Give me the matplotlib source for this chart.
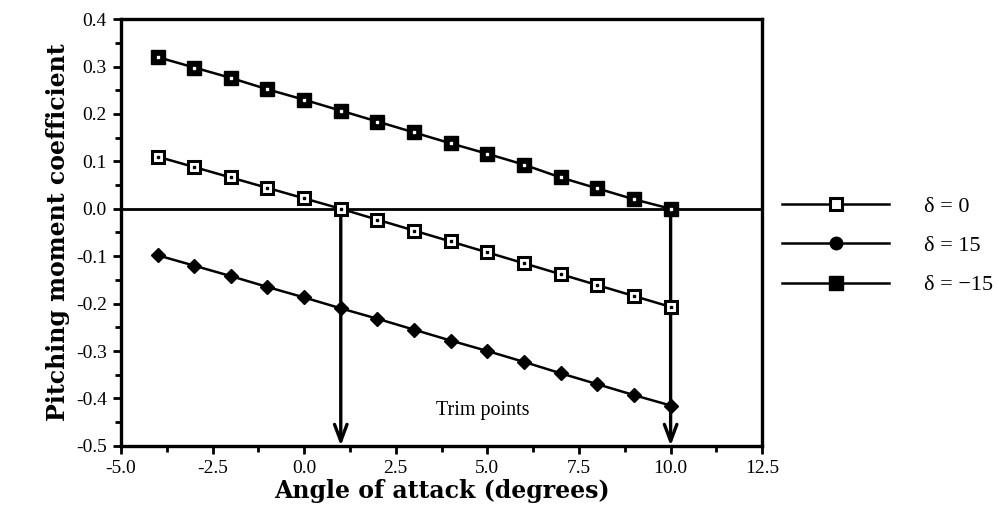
import matplotlib
matplotlib.use("Agg")
import matplotlib.pyplot as plt
from matplotlib.lines import Line2D

alpha = [-4, -3, -2, -1, 0, 1, 2, 3, 4, 5, 6, 7, 8, 9, 10]
cm_d0 = [0.110, 0.088, 0.066, 0.044, 0.022, 0.000, -0.023, -0.046, -0.069,
         -0.092, -0.115, -0.138, -0.161, -0.184, -0.207]
cm_d15 = [-0.098, -0.120, -0.142, -0.165, -0.187, -0.210, -0.232, -0.255,
          -0.278, -0.300, -0.323, -0.347, -0.370, -0.393, -0.415]
cm_dm15 = [0.320, 0.298, 0.276, 0.252, 0.230, 0.207, 0.184, 0.161, 0.138,
           0.116, 0.093, 0.066, 0.043, 0.020, 0.000]
trim_alpha = [1, 10]
labels = ["δ = 0", "δ = 15", "δ = −15"]

plt.rcParams['font.family'] = ['Liberation Serif', 'DejaVu Serif']

fig = plt.figure(figsize=(9.99, 5.32), dpi=100)
ax = fig.add_axes([0.121, 0.162, 0.642, 0.802])

lw = 1.8
# delta = 0 : open square with dot
ax.plot(alpha, cm_d0, color='black', lw=lw, marker='s', ms=8, mfc='white',
        mec='black', mew=2.2, zorder=3)
ax.plot(alpha, cm_d0, ls='none', marker='s', ms=1.8, mfc='black', mec='black', zorder=4)
# delta = 15 : filled diamond
ax.plot(alpha, cm_d15, color='black', lw=lw, marker='D', ms=7, mfc='black',
        mec='black', zorder=3)
# delta = -15 : filled square with white dot
ax.plot(alpha, cm_dm15, color='black', lw=lw, marker='s', ms=9.5, mfc='black',
        mec='black', zorder=3)
ax.plot(alpha, cm_dm15, ls='none', marker='s', ms=1.5, mfc='white', mec='white', zorder=4)

ax.axhline(0, color='black', lw=2.0, zorder=2)

for a in trim_alpha:
    ax.annotate('', xy=(a, -0.5), xytext=(a, 0.0),
                arrowprops=dict(arrowstyle='->,head_length=1.2,head_width=0.45',
                                color='black', lw=2.4, shrinkA=0, shrinkB=0),
                zorder=2)

ax.text(3.6, -0.425, 'Trim points', fontsize=14.5, ha='left', va='center')

ax.set_xlim(-5, 12.5)
ax.set_ylim(-0.5, 0.4)
ax.set_xticks([-5, -2.5, 0, 2.5, 5, 7.5, 10, 12.5])
ax.set_xticks([-3.75, -1.25, 1.25, 3.75, 6.25, 8.75, 11.25], minor=True)
ax.set_yticks([-0.5, -0.4, -0.3, -0.2, -0.1, 0.0, 0.1, 0.2, 0.3, 0.4])
ax.set_yticks([-0.45, -0.35, -0.25, -0.15, -0.05, 0.05, 0.15, 0.25, 0.35], minor=True)
ax.xaxis.set_major_formatter(matplotlib.ticker.FormatStrFormatter('%.1f'))
ax.yaxis.set_major_formatter(matplotlib.ticker.FormatStrFormatter('%.1f'))
ax.tick_params(which='major', direction='out', length=6, width=2, labelsize=14, pad=4)
ax.tick_params(which='minor', direction='out', length=4, width=2)
for s in ax.spines.values():
    s.set_linewidth(2.4)

ax.set_xlabel('Angle of attack (degrees)', fontsize=17, fontweight='bold',
              family=['DejaVu Serif'], labelpad=2)
ax.set_ylabel('Pitching moment coefficient', fontsize=17, fontweight='bold',
              family=['DejaVu Serif'], labelpad=4)

handles = [
    Line2D([], [], color='black', lw=lw, marker='s', ms=8, mfc='white', mec='black', mew=2.2),
    Line2D([], [], color='black', lw=lw, marker='o', ms=9, mfc='black', mec='black'),
    Line2D([], [], color='black', lw=lw, marker='s', ms=9.5, mfc='black', mec='black'),
]
fig.legend(handles, labels, loc='upper left', bbox_to_anchor=(0.783, 1 - 196 / 532),
           frameon=False, fontsize=16, handlelength=4.8, labelspacing=0.85,
           handletextpad=1.6, borderpad=0, borderaxespad=0)

fig.savefig('out.png', dpi=100)
